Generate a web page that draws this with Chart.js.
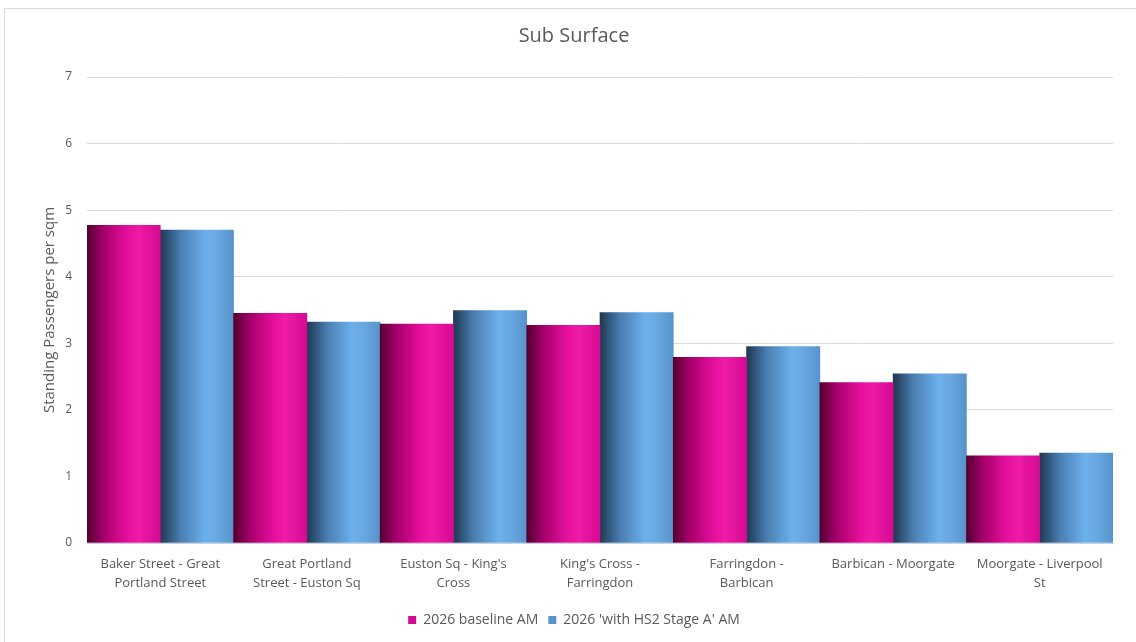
<!DOCTYPE html>
<html>
<meta charset="UTF-8">
<head>
    <title>Sub Surface</title>
    <script src="https://cdn.jsdelivr.net/npm/chart.js"></script>
    <style>
        html, body { margin: 0; padding: 0; overflow: hidden; background: #fff; }
        #frame { position: absolute; left: 4px; top: 8px; width: 1200px; height: 700px; border: 1px solid #d9d9d9; }
        #chartContainer { position: absolute; left: 0; top: 0; width: 1136px; height: 642px; }
    </style>
</head>
<body>
<div id="frame"></div>
<div id="chartContainer">
    <canvas id="chart"></canvas>
</div>

<script>
    // Данные графика
    const categories = [
        ['Baker Street - Great', 'Portland Street'],
        ['Great Portland', 'Street - Euston Sq'],
        ["Euston Sq - King's", 'Cross'],
        ["King's Cross -", 'Farringdon'],
        ['Farringdon -', 'Barbican'],
        ['Barbican - Moorgate'],
        ['Moorgate - Liverpool', 'St']
    ];
    const baselineAM = [4.77, 3.45, 3.29, 3.27, 2.79, 2.41, 1.31];
    const withHS2AM = [4.70, 3.32, 3.49, 3.46, 2.95, 2.54, 1.35];
    const yTicks = [0, 1, 2, 3, 4, 5, 6, 7];

    const pinkStops = [[0, '#55002f'], [0.22, '#a3006a'], [0.55, '#e60f9c'], [0.7, '#ee1ba6'], [1, '#d50a92']];
    const blueStops = [[0, '#1f3850'], [0.28, '#4a7fb3'], [0.62, '#6cb0ec'], [0.75, '#6aaae4'], [1, '#5893cb']];

    // Градиент «цилиндра» по ширине каждого столбца
    function barFill(stops, solid) {
        return function(ctx) {
            const chart = ctx.chart;
            const x = chart.scales && chart.scales.x;
            if (ctx.type !== 'data' || !x || !chart.chartArea) return solid;
            const w = x.width / categories.length;
            const c = x.getPixelForValue(ctx.dataIndex);
            const x0 = ctx.datasetIndex === 0 ? c - w / 2 : c;
            const g = chart.ctx.createLinearGradient(x0, 0, x0 + w / 2, 0);
            stops.forEach(s => g.addColorStop(s[0], s[1]));
            return g;
        };
    }

    const font = '"Open Sans", "Noto Sans", sans-serif';
    Chart.defaults.font.family = font;
    Chart.defaults.color = '#595959';

    new Chart(document.getElementById('chart').getContext('2d'), {
        type: 'bar',
        data: {
            labels: categories,
            datasets: [{
                label: '2026 baseline AM',
                data: baselineAM,
                backgroundColor: barFill(pinkStops, '#c4087f'),
                borderWidth: 0
            }, {
                label: "2026 'with HS2 Stage A' AM",
                data: withHS2AM,
                backgroundColor: barFill(blueStops, '#5b9bd5'),
                borderWidth: 0
            }]
        },
        options: {
            responsive: true,
            maintainAspectRatio: false,
            animation: false,
            categoryPercentage: 1,
            barPercentage: 1,
            layout: { padding: { left: 35, right: 23, top: 0, bottom: 5 } },
            plugins: {
                title: {
                    display: true,
                    text: 'Sub Surface',
                    color: '#595959',
                    font: { size: 20, weight: 'normal', lineHeight: 1.2 },
                    padding: { top: 24, bottom: 29 }
                },
                legend: {
                    position: 'bottom',
                    labels: {
                        boxWidth: 8,
                        boxHeight: 8,
                        padding: 10,
                        color: '#595959',
                        font: { size: 14 }
                    }
                },
                tooltip: { enabled: false }
            },
            scales: {
                x: {
                    grid: { display: false },
                    border: { display: true, color: '#c9d2e0', width: 1 },
                    ticks: {
                        color: '#595959',
                        font: { size: 13, lineHeight: 1.45 },
                        maxRotation: 0,
                        autoSkip: false,
                        padding: 4
                    },
                    afterFit: s => { s.height = 60; }
                },
                y: {
                    min: 0,
                    max: 7,
                    afterBuildTicks: s => { s.ticks = yTicks.map(v => ({ value: v })); },
                    grid: { color: '#d9d9d9', drawTicks: false },
                    border: { display: false },
                    ticks: {
                        color: '#595959',
                        font: { size: 12 },
                        padding: 15
                    },
                    title: {
                        display: true,
                        text: 'Standing Passengers per sqm',
                        color: '#595959',
                        font: { size: 15, lineHeight: 1.2 },
                        padding: { top: 6, bottom: 0 }
                    },
                    afterFit: s => { s.width = 52; }
                }
            }
        }
    });
</script>
</body>
</html>
